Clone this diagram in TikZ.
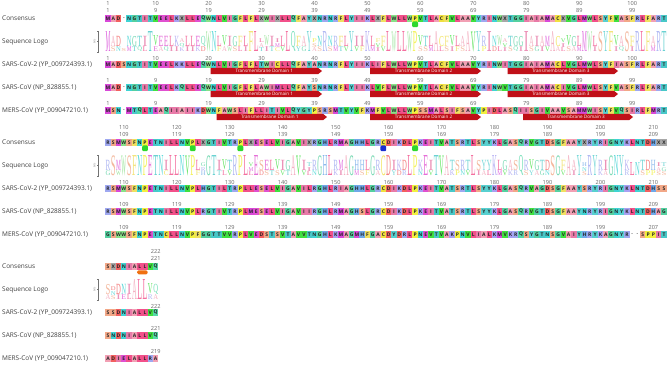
\documentclass[tikz,border=0pt]{standalone}
\usepackage{fontspec}
\setmainfont{Open Sans}
\newfontfamily\logofont{Liberation Serif}
\usepackage{graphicx}
\ExplSyntaxOn
\cs_new:Npn \seqitem #1#2 { \str_item:Nn #1 {#2} }
\ExplSyntaxOff
\definecolor{aaA}{HTML}{F2A0B4}
\definecolor{aaR}{HTML}{9FA8F0}
\definecolor{aaN}{HTML}{3FD3D3}
\definecolor{aaD}{HTML}{F26060}
\definecolor{aaC}{HTML}{F0E040}
\definecolor{aaQ}{HTML}{55D8A8}
\definecolor{aaE}{HTML}{E050D0}
\definecolor{aaG}{HTML}{55D0A0}
\definecolor{aaH}{HTML}{6FA8E8}
\definecolor{aaI}{HTML}{E87AA8}
\definecolor{aaL}{HTML}{F2508A}
\definecolor{aaK}{HTML}{A8A0F2}
\definecolor{aaM}{HTML}{D848D8}
\definecolor{aaF}{HTML}{F0E060}
\definecolor{aaP}{HTML}{F2F040}
\definecolor{aaS}{HTML}{F2A888}
\definecolor{aaT}{HTML}{48C8C8}
\definecolor{aaW}{HTML}{88E088}
\definecolor{aaY}{HTML}{58D0D0}
\definecolor{aaV}{HTML}{40E040}
\definecolor{aaX}{HTML}{A8A8A8}
\definecolor{tmcol}{HTML}{C01018}
\definecolor{mgreen}{HTML}{2ED82E}
\definecolor{mblue}{HTML}{1A2FD0}
\definecolor{morange}{HTML}{F07010}
\def\seqA{MADSNGTITVEELKKLLEQWNLVIGFLFLTWICLLQFAYANRNRFLYIIKLIFLWLLWPVTLACFVLAAVYRINWITGGIAIAMACLVGLMWLSYFIASFRLFARTRSMWSFNPETNILLNVPLHGTILTRPLLESELVIGAVILRGHLRIAGHHLGRCDIKDLPKEITVATSRTLSYYKLGASQRVAGDSGFAAYSRYRIGNYKLNTDHSSSSDNIALLVQ}
\def\seqB{MAD-NGTITVEELKQLLEQWNLVIGFLFLAWIMLLQFAYSNRNRFLYIIKLVFLWLLWPVTLACFVLAAVYRINWVTGGIAIAMACIVGLMWLSYFVASFRLFARTRSMWSFNPETNILLNVPLRGTIVTRPLMESELVIGAVIIRGHLRMAGHSLGRCDIKDLPKEITVATSRTLSYYKLGASQRVGTDSGFAAYNRYRIGNYKLNTDHAGSNDNIALLVQ}
\def\seqC{MSN-MTQLTEAQIIAIIKDWNFAWSLIFLLITIVLQYGYPSRSMTVYVFKMFVLWLLWPSSMALSIFSAVYPIDLASQIISGIVAAVSAMMWISYFVQSIRLFMRTGSWWSFNPETNCLLNVPFGGTTVVRPLVEDSTSVTAVVTNGHLKMAGMHFGACDYDRLPNEVTVAKPNVLIALKMVKRQSYGTNSGVAIYHRYKAGNYR--SPPITADIELALLRA}
\def\gp{-}
\def\getcons{%
  \ifx\ca\cb \let\ck\ca \else
  \ifx\ca\cc \let\ck\ca \else
  \ifx\cb\cc \let\ck\cb \else
  \def\ck{X}\fi\fi\fi}
\newcommand\drawres[3]{%
  \ifx#3\gp\node[gapbox] (#1) at (\xx,#2+\yo) {-};%
  \else\node[resbox,fill=aa#3] (#1) at (\xx,#2+\yo) {#3};\fi}
\newcommand\logochar[4]{% name, char, bottom offset, height
  \node[inner sep=0pt,anchor=south] (#1) at (\xx,52+\yo-#3)
    {\resizebox*{4.8pt}{#4pt}{\logofont\textcolor{aa#2!82!white}{#2}}};}
\newcommand\lgone[1]{\ifx#1\gp\else\logochar{g\n}{#1}{0}{20}\fi}
\newcommand\lgtwo[2]{%
  \ifx#1\gp \ifx#2\gp\else\logochar{g\n}{#2}{0}{3}\fi
  \else \ifx#2\gp \logochar{g\n}{#1}{0}{13}%
    \else \logochar{h\n}{#2}{0}{4.8}\logochar{g\n}{#1}{5.6}{10.2}\fi\fi}
\newcommand\lgs[2]{\ifx#1\gp\else\logochar{#2}{#1}{\off}{3.8}\pgfmathsetmacro\off{\off+4.5}\fi}
\newcommand\lgthree{\def\off{0}\lgs\ca{g\n}\lgs\cb{h\n}\lgs\cc{i\n}}
\newcommand\drawlogo{%
  \ifx\ca\cb
    \ifx\ca\cc \lgone\ca \else \lgtwo\ca\cc \fi
  \else
    \ifx\ca\cc \lgtwo\ca\cb
    \else \ifx\cb\cc \lgtwo\cb\ca \else \lgthree \fi\fi
  \fi}
\newcommand\tmbar[5]{%
  \fill[tmcol] (#2,#4-3.2) -- (#3-4,#4-3.2) -- (#3,#4) -- (#3-4,#4+3.2) -- (#2,#4+3.2) -- cycle;
  \node[tmtxt] (#1) at ({(#2+#3-4)/2},#4) {#5};}
\begin{document}
\begin{tikzpicture}[x=1pt,y=-1pt,
  resbox/.style={inner sep=0pt, minimum width=5.4pt, minimum height=6.4pt, font=\fontsize{5}{5}\selectfont\bfseries, text=black!85},
  gapbox/.style={inner sep=0pt, minimum width=5.3pt, minimum height=6.4pt, font=\fontsize{5}{5}\selectfont\bfseries, text=black!60},
  lbl/.style={anchor=west, inner sep=0pt, font=\fontsize{6.5}{7}\selectfont, text=black!75},
  numlbl/.style={inner sep=0pt, font=\fontsize{5.6}{6}\selectfont, text=black!60},
  tmtxt/.style={inner sep=0pt, font=\fontsize{4.6}{5}\selectfont, text=white},
  marker/.style={inner sep=0pt, minimum size=5.8pt, rounded corners=1.2pt},
  axisline/.style={draw=black!55, line width=0.4pt},
  axlbl/.style={inner sep=0pt, rotate=90, font=\fontsize{2.6}{3}\selectfont, text=black!55}]
\fill[white] (0,0) rectangle (669,368);
\useasboundingbox (0,0) rectangle (669,368);
% row labels and logo axes
\foreach \b in {0,1,2}{
  \pgfmathsetmacro\yo{124*\b}
  \node[lbl] (Lk\b) at (2,18.3+\yo) {Consensus};
  \node[lbl] (Ll\b) at (2,42+\yo) {Sequence Logo};
  \node[lbl] (La\b) at (2,64.5+\yo) {SARS-CoV-2 (YP\_009724393.1)};
  \node[lbl] (Lb\b) at (2,87.5+\yo) {SARS-CoV (NP\_828855.1)};
  \node[lbl] (Lc\b) at (2,110.5+\yo) {MERS-CoV (YP\_009047210.1)};
  \draw[axisline] (97,31+\yo) -- (98,31+\yo) -- (98,52+\yo) -- (97,52+\yo);
  \draw[axisline] (97,41.5+\yo) -- (98,41.5+\yo);
  \node[axlbl] (ax\b) at (94.5,41.5+\yo) {bits};
}
% residues and logo
\foreach \n in {1,...,222}{
  \pgfmathtruncatemacro\blk{(\n-1)/106}
  \pgfmathtruncatemacro\loc{\n-106*\blk}
  \pgfmathsetmacro\xx{108+(\loc-1)*5.295}
  \pgfmathsetmacro\yo{124*\blk}
  \edef\ca{\seqitem\seqA{\n}}
  \edef\cb{\seqitem\seqB{\n}}
  \edef\cc{\seqitem\seqC{\n}}
  \getcons
  \drawres{k\n}{18.3}{\ck}
  \drawres{a\n}{64.5}{\ca}
  \drawres{b\n}{87.5}{\cb}
  \drawres{c\n}{110.5}{\cc}
  \drawlogo
}
% position numbers
\foreach \n in {1,10,20,30,40,50,60,70,80,90,100,110,120,130,140,150,160,170,180,190,200,210,222}{
  \pgfmathtruncatemacro\blk{(\n-1)/106}
  \pgfmathtruncatemacro\loc{\n-106*\blk}
  \pgfmathsetmacro\xx{108+(\loc-1)*5.295}
  \pgfmathsetmacro\yo{124*\blk}
  \pgfmathtruncatemacro\cons{\n==1 ? 1 : \n-1}
  \pgfmathtruncatemacro\mers{\n>206 ? \n-3 : \cons}
  \node[numlbl] (tn\n) at (\xx,3.5+\yo) {\n};
  \node[numlbl] (sn\n) at (\xx,10.5+\yo) {\cons};
  \node[numlbl] (an\n) at (\xx,58+\yo) {\n};
  \node[numlbl] (bn\n) at (\xx,80.5+\yo) {\cons};
  \node[numlbl] (cn\n) at (\xx,103.5+\yo) {\mers};
}
% consensus markers
\foreach \n/\mc in {59/mgreen,114/mgreen,123/mgreen,132/mgreen,159/mblue,165/mgreen}{
  \pgfmathtruncatemacro\blk{(\n-1)/106}
  \pgfmathtruncatemacro\loc{\n-106*\blk}
  \pgfmathsetmacro\xx{108+(\loc-1)*5.295}
  \pgfmathsetmacro\yo{124*\blk}
  \node[marker,fill=\mc] (m\n) at (\xx,24.3+\yo) {};
}
\node[inner sep=0pt, minimum width=10.6pt, minimum height=4pt, rounded corners=1.5pt, fill=morange] (mo) at (142.4,272.3) {};
% transmembrane domains
\tmbar{t1a}{210.5}{322}{71}{Transmembrane Domain 1}
\tmbar{t2a}{370}{481}{71}{Transmembrane Domain 2}
\tmbar{t3a}{507.5}{618}{71}{Transmembrane Domain 3}
\tmbar{t1b}{210.5}{322}{94}{Transmembrane Domain 1}
\tmbar{t2b}{370}{481}{94}{Transmembrane Domain 2}
\tmbar{t3b}{507.5}{618}{94}{Transmembrane Domain 3}
\tmbar{t1c}{216.5}{327}{117}{Transmembrane Domain 1}
\tmbar{t2c}{370}{481}{117}{Transmembrane Domain 2}
\tmbar{t3c}{523}{633}{117}{Transmembrane Domain 3}
\end{tikzpicture}
\end{document}
